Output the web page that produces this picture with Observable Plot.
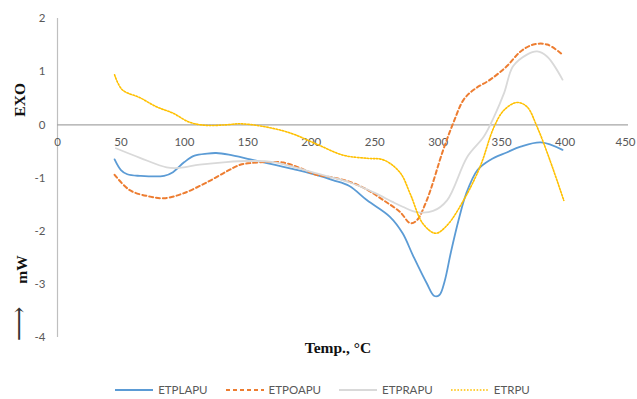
<!DOCTYPE html>
<html>
<head>
<meta charset="utf-8">
<script src="https://cdn.jsdelivr.net/npm/d3@7"></script>
<script src="https://cdn.jsdelivr.net/npm/@observablehq/plot@0.6"></script>
<style>
  html, body { margin: 0; padding: 0; background: #ffffff; }
  #wrap { position: relative; width: 637px; height: 399px; overflow: hidden; background: #ffffff; }
  #legend {
    display: flex; justify-content: center; align-items: center; gap: 18px;
    height: 27px; margin-top: 4px; padding-left: 8px;
    font-family: Lato, "Open Sans", sans-serif; font-size: 11.5px; color: #595959;
  }
  #legend .item { display: flex; align-items: center; gap: 5px; }
  #legend svg { display: block; }
</style>
</head>
<body>
<div id="wrap">
  <div id="chart"></div>
  <div id="legend"></div>
</div>
<script>
// DSC curves: heat flow (mW) against temperature (°C) for four polyurethanes.
const seriesNames = ["ETPLAPU", "ETPOAPU", "ETPRAPU", "ETRPU"];

const tempETPLAPU = [45, 50, 55, 65, 84, 91, 100, 108, 118, 125, 135, 152, 165, 178, 191, 204, 217, 230, 244, 262, 272, 280, 291, 297, 301, 305, 310, 316, 322, 331, 341, 354, 365, 381, 398];
const heatETPLAPU = [-0.65, -0.85, -0.93, -0.96, -0.96, -0.89, -0.7, -0.58, -0.54, -0.53, -0.56, -0.65, -0.72, -0.79, -0.86, -0.94, -1.04, -1.15, -1.42, -1.73, -2.04, -2.45, -2.98, -3.22, -3.2, -2.95, -2.4, -1.8, -1.3, -0.85, -0.66, -0.52, -0.41, -0.33, -0.47];

const tempETPOAPU = [45, 57, 73, 84, 99, 117, 133, 144, 152, 165, 178, 191, 204, 217, 230, 244, 257, 270, 278, 283, 291, 304, 312, 320, 328, 341, 354, 365, 375, 386, 398];
const heatETPOAPU = [-0.94, -1.23, -1.35, -1.38, -1.29, -1.09, -0.88, -0.75, -0.72, -0.7, -0.71, -0.81, -0.94, -0.99, -1.07, -1.22, -1.42, -1.64, -1.85, -1.8, -1.42, -0.47, 0.04, 0.47, 0.66, 0.85, 1.1, 1.38, 1.51, 1.51, 1.32];

const tempETPRAPU = [46, 65, 86, 96, 112, 133, 150, 170, 190, 210, 230, 250, 264, 272, 283, 296, 307, 323, 336, 344, 352, 359, 370, 378, 386, 398];
const heatETPRAPU = [-0.44, -0.62, -0.8, -0.81, -0.75, -0.7, -0.68, -0.7, -0.82, -0.95, -1.08, -1.28, -1.45, -1.54, -1.64, -1.62, -1.42, -0.6, -0.22, 0.15, 0.6, 1.1, 1.32, 1.38, 1.28, 0.85];

const tempETRPU = [45, 51, 65, 78, 91, 104, 117, 133, 144, 162, 183, 204, 225, 244, 257, 270, 278, 288, 298, 307, 320, 333, 344, 352, 362, 370, 378, 388, 399];
const heatETRPU = [0.94, 0.66, 0.51, 0.34, 0.22, 0.05, -0.01, 0, 0.02, -0.03, -0.15, -0.36, -0.57, -0.63, -0.66, -0.9, -1.3, -1.86, -2.04, -1.89, -1.42, -0.79, -0.04, 0.28, 0.42, 0.34, -0.04, -0.66, -1.42];

const xTicks = [0, 50, 100, 150, 200, 250, 300, 350, 400, 450];
const yTicks = [-4, -3, -2, -1, 0, 1, 2];

const styles = {
  ETPLAPU: {stroke: "#5b9bd5", strokeWidth: 1.8, dash: null},
  ETPOAPU: {stroke: "#ed7d31", strokeWidth: 2, dash: "4,3"},
  ETPRAPU: {stroke: "#d9d9d9", strokeWidth: 1.8, dash: null},
  ETRPU:   {stroke: "#ffc000", strokeWidth: 1.6, dash: "1.6,1.6"}
};

const rows = (name, t, h) => t.map((v, i) => ({series: name, temp: v, heat: h[i]}));
const data = [
  ...rows("ETPLAPU", tempETPLAPU, heatETPLAPU),
  ...rows("ETPOAPU", tempETPOAPU, heatETPOAPU),
  ...rows("ETPRAPU", tempETPRAPU, heatETPRAPU),
  ...rows("ETRPU", tempETRPU, heatETRPU)
];

const lineMarks = seriesNames.map(name => Plot.line(data.filter(d => d.series === name), {
  x: "temp", y: "heat",
  stroke: styles[name].stroke,
  strokeWidth: styles[name].strokeWidth,
  strokeDasharray: styles[name].dash,
  curve: "catmull-rom"
}));

const serif = "'Liberation Serif', 'DejaVu Serif', serif";
const sans = "Lato, 'Open Sans', sans-serif";
const xTickText = {y: 0, dy: 17, text: d => String(d), fontSize: 11.5, fontFamily: sans, fill: "#595959"};

const chart = Plot.plot({
  width: 637,
  height: 372,
  marginLeft: 57,
  marginRight: 9,
  marginTop: 18,
  marginBottom: 35,
  style: {background: "transparent", overflow: "visible"},
  x: {domain: [0, 450], axis: null},
  y: {domain: [-4, 2], axis: null},
  marks: [
    Plot.ruleX([0], {y1: -4, y2: 2, stroke: "#bfbfbf", strokeWidth: 1.2}),
    Plot.ruleY([0], {stroke: "#a6a6a6", strokeWidth: 1.2}),
    Plot.axisY({ticks: yTicks, label: null, tickSize: 0, tickPadding: 12, tickFormat: d => String(d),
      fontSize: 11.5, fontFamily: sans, fill: "#595959"}),
    // tick labels sit just under the zero line; the last one is nudged in from the edge
    Plot.text(xTicks.slice(0, -1), {x: d => d, ...xTickText}),
    Plot.text(xTicks.slice(-1), {x: d => d, dx: -3, ...xTickText}),
    ...lineMarks,
    Plot.text(["EXO"], {x: 0, y: 0.47, dx: -37, rotate: -90, text: d => d,
      fontSize: 15.5, fontWeight: "bold", fontFamily: serif, fill: "#111"}),
    Plot.text(["mW"], {x: 0, y: -2.72, dx: -35, rotate: -90, text: d => d,
      fontSize: 15.5, fontWeight: "bold", fontFamily: serif, fill: "#111"}),
    Plot.text(["⟶"], {x: 0, y: -3.74, dx: -38, rotate: -90, text: d => d,
      fontSize: 24, fontFamily: "'DejaVu Serif', serif", fill: "#333"}),
    Plot.text(["Temp., °C"], {x: 221, frameAnchor: "bottom", dy: 15, text: d => d,
      fontSize: 15.5, fontWeight: "bold", fontFamily: serif, fill: "#111"})
  ]
});
document.getElementById("chart").appendChild(chart);

// Legend row below the plot, one line sample per series.
const legend = d3.select("#legend");
for (const name of seriesNames) {
  const s = styles[name];
  const item = legend.append("div").attr("class", "item");
  const sw = item.append("svg").attr("width", 38).attr("height", 10);
  sw.append("line")
    .attr("x1", 0).attr("x2", 38).attr("y1", 5).attr("y2", 5)
    .attr("stroke", s.stroke).attr("stroke-width", s.strokeWidth)
    .attr("stroke-dasharray", s.dash);
  item.append("span").text(name);
}
</script>
</body>
</html>
